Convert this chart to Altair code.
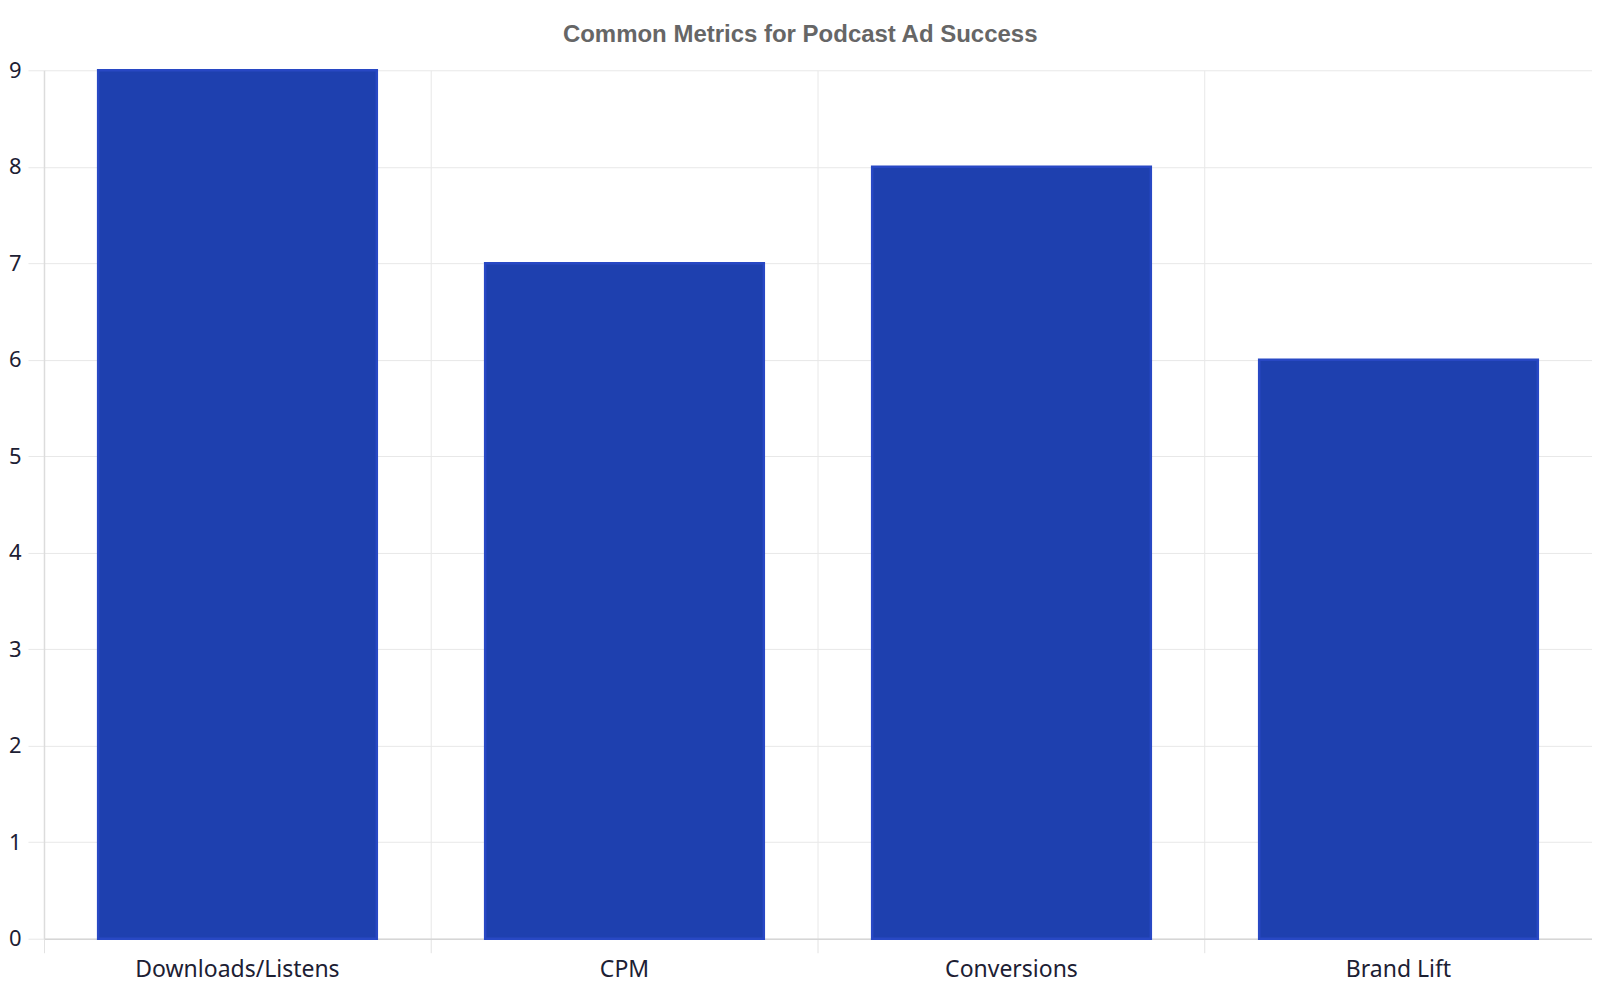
"""Bar chart: common metrics for podcast ad success."""
import pandas as pd
import altair as alt

_FILL = "#1e40af"     # bar fill
_EDGE = "#2848c4"     # bar outline
_GRID = "#e8e8e8"
_INK = "#1c2033"

metrics = ["Downloads/Listens", "CPM", "Conversions", "Brand Lift"]
scores = [9, 7, 8, 6]

df = pd.DataFrame({"metric": metrics, "score": scores})

chart = alt.Chart(df).mark_bar(
    color=_FILL, stroke=_EDGE, strokeWidth=2.5,
    width=alt.RelativeBandSize(0.72),
).encode(
    x=alt.X("metric:N", sort=metrics, title=None,
            scale=alt.Scale(paddingInner=0, paddingOuter=0),
            axis=alt.Axis(labelAngle=0, bandPosition=0, grid=True, gridColor=_GRID,
                          tickColor="#e2e2e2", tickSize=14, domainColor="#d6d6d6",
                          domainWidth=1.5, labelPadding=6, labelFontSize=23,
                          labelLimit=0, labelFont="Noto Sans", labelColor=_INK)),
    y=alt.Y("score:Q", title=None,
            scale=alt.Scale(domain=[0, 9], nice=False),
            axis=alt.Axis(values=list(range(10)), grid=True, gridColor=_GRID,
                          tickColor=_GRID, tickSize=16, domainColor="#dcdcdc",
                          domainWidth=1.5, labelPadding=7, labelFontSize=22,
                          labelFont="Noto Sans", labelColor=_INK)),
).properties(
    width=1549, height=869,
    padding={"left": 0, "right": 0, "top": 15, "bottom": 8},
    title=alt.TitleParams("Common Metrics for Podcast Ad Success", font="Liberation Sans",
                          fontSize=24, fontWeight="bold", color="#666666",
                          anchor="middle", frame="bounds", offset=12),
).configure_view(stroke=None)

chart.save("out.html", embed_options={"renderer": "svg", "actions": False})
